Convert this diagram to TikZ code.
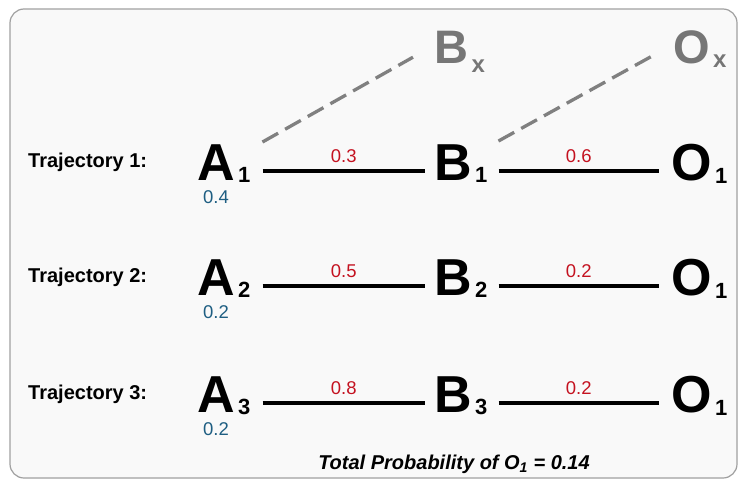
\documentclass[tikz,border=0pt]{standalone}
\usepackage{fontspec}
\setmainfont{Liberation Sans}
\definecolor{framebg}{RGB}{249,249,249}
\definecolor{framegray}{RGB}{160,160,160}
\definecolor{probred}{RGB}{196,18,32}
\definecolor{probblue}{RGB}{30,94,130}
\definecolor{lettergray}{RGB}{118,118,118}
\definecolor{dashgray}{RGB}{128,128,128}
\begin{document}
\begin{tikzpicture}[x=1pt,y=-1pt,
  big/.style={font=\fontsize{52}{52}\selectfont\bfseries, inner sep=0pt, anchor=base west},
  subs/.style={font=\fontsize{22}{22}\selectfont\bfseries, inner sep=0pt, anchor=base west},
  gbig/.style={big, font=\fontsize{47}{47}\selectfont\bfseries, text=lettergray},
  gsub/.style={subs, font=\fontsize{24}{24}\selectfont\bfseries, text=lettergray},
  tlabel/.style={font=\fontsize{20}{20}\selectfont\bfseries, inner sep=0pt, anchor=base west},
  plab/.style={font=\fontsize{18.5}{18.5}\selectfont, text=probred, inner sep=0pt, midway, above=7pt},
  pblue/.style={font=\fontsize{18.5}{18.5}\selectfont, text=probblue, inner sep=0pt},
  conn/.style={draw=black, line width=3.2pt},
  dconn/.style={draw=dashgray, line width=3.3pt, dash pattern=on 18pt off 8pt},
  total/.style={font=\fontsize{20}{20}\selectfont\bfseries\itshape, inner sep=0pt}
]
\fill[white] (0,0) rectangle (739,479);
\useasboundingbox (0,0) rectangle (739,479);
\draw[fill=framebg, draw=framegray, line width=1.2pt, rounded corners=14pt] (10,9) rectangle (737,478);

% gray upper letters
\node[gbig] (Bx) at (434,63) {B};
\node[gsub] (sBx) at ([shift={(3pt,-9pt)}]Bx.base east) {x};
\node[gbig] (Ox) at (673,63) {O};
\node[gsub] (sOx) at ([shift={(3pt,-4pt)}]Ox.base east) {x};

\foreach \row/\y/\pa/\pb/\pc in {1/180/0.4/0.3/0.6, 2/295/0.2/0.5/0.2, 3/412/0.2/0.8/0.2} {
  \node[tlabel] (T\row) at (28,\y-13) {Trajectory \row:};
  \node[big] (A\row) at (197,\y) {A};
  \node[subs] (sA\row) at ([shift={(3pt,-2pt)}]A\row.base east) {\row};
  \node[big] (B\row) at (434,\y) {B};
  \node[subs] (sB\row) at ([shift={(3pt,-2pt)}]B\row.base east) {\row};
  \node[big] (O\row) at (671,\y) {O};
  \node[subs] (sO\row) at ([shift={(3pt,-3pt)}]O\row.base east) {1};
  \node[pblue] (P\row) at ([yshift=-17pt]A\row.base) {\pa};
  \draw[conn] ([shift={(12pt,11pt)}]sA\row.base east) -- node[plab] (PAB\row) {\pb} ([shift={(-9pt,9pt)}]B\row.base west);
  \draw[conn] ([shift={(11pt,11pt)}]sB\row.base east) -- node[plab] (PBO\row) {\pc} ([shift={(-12pt,9pt)}]O\row.base west);
}

% dashed links
\draw[dconn] ([shift={(27.5pt,2pt)}]A1.north east) -- ([shift={(-21pt,6pt)}]Bx.south west);
\draw[dconn] ([shift={(26.5pt,3pt)}]B1.north east) -- ([shift={(-22pt,7pt)}]Ox.south west);

\node[total] (tot) at (454,464) {Total Probability of O\textsubscript{1} = 0.14};
\end{tikzpicture}
\end{document}
